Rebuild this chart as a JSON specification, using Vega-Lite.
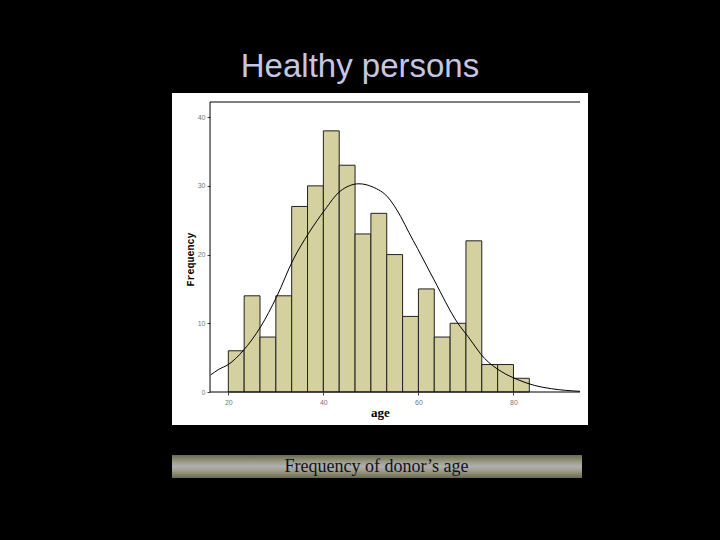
{
  "$schema": "https://vega.github.io/schema/vega-lite/v6.json",
  "width": 416,
  "height": 332,
  "autosize": {"type": "none"},
  "padding": {"left": 172, "top": 93, "right": 132, "bottom": 115},
  "background": "black",
  "config": {
    "view": {"stroke": null, "fill": "white"},
    "axis": {"grid": false, "domain": false, "labelFontSize": 7, "labelColor": "#777777", "labelFont": "Liberation Sans", "tickSize": 3, "tickColor": "#444444", "titleColor": "black", "titleFontWeight": "bold"},
    "axisX": {"labelPadding": 3, "titleFont": "Liberation Serif", "titleFontSize": 13, "titlePadding": 1},
    "axisY": {"labelPadding": 2, "titleFont": "Liberation Mono", "titleFontSize": 10, "titlePadding": 2}
  },
  "title": {"text": "Healthy persons", "font": "Liberation Sans", "fontSize": 33, "fontWeight": "normal", "color": "#c6c6e2", "anchor": "middle", "frame": "group", "dx": -20, "dy": 39, "offset": 22, "baseline": "alphabetic"},
  "datasets": {
    "bins": [
      {"start": 20, "end": 23.333, "count": 6},
      {"start": 23.333, "end": 26.667, "count": 14},
      {"start": 26.667, "end": 30, "count": 8},
      {"start": 30, "end": 33.333, "count": 14},
      {"start": 33.333, "end": 36.667, "count": 27},
      {"start": 36.667, "end": 40, "count": 30},
      {"start": 40, "end": 43.333, "count": 38},
      {"start": 43.333, "end": 46.667, "count": 33},
      {"start": 46.667, "end": 50, "count": 23},
      {"start": 50, "end": 53.333, "count": 26},
      {"start": 53.333, "end": 56.667, "count": 20},
      {"start": 56.667, "end": 60, "count": 11},
      {"start": 60, "end": 63.333, "count": 15},
      {"start": 63.333, "end": 66.667, "count": 8},
      {"start": 66.667, "end": 70, "count": 10},
      {"start": 70, "end": 73.333, "count": 22},
      {"start": 73.333, "end": 76.667, "count": 4},
      {"start": 76.667, "end": 80, "count": 4},
      {"start": 80, "end": 83.333, "count": 2}
    ],
    "curve": [
      {"age": 16.3, "freq": 2.5},
      {"age": 18, "freq": 3.3},
      {"age": 20, "freq": 4.0},
      {"age": 23.1, "freq": 6.0},
      {"age": 26.8, "freq": 9.5},
      {"age": 30.2, "freq": 13.9},
      {"age": 33.6, "freq": 19.2},
      {"age": 36.9, "freq": 23.1},
      {"age": 40.3, "freq": 26.5},
      {"age": 43.5, "freq": 29.2},
      {"age": 47.5, "freq": 30.3},
      {"age": 50.5, "freq": 29.8},
      {"age": 53.5, "freq": 28.4},
      {"age": 56.3, "freq": 25.5},
      {"age": 58.0, "freq": 23.2},
      {"age": 59.8, "freq": 20.9},
      {"age": 63.3, "freq": 16.3},
      {"age": 68.3, "freq": 10.0},
      {"age": 70.4, "freq": 8.1},
      {"age": 73.9, "freq": 4.9},
      {"age": 77.4, "freq": 3.0},
      {"age": 80.9, "freq": 1.8},
      {"age": 84.4, "freq": 0.96},
      {"age": 88, "freq": 0.48},
      {"age": 94, "freq": 0.1}
    ]
  },
  "layer": [
    {
      "data": {"name": "bins"},
      "mark": {"type": "rect", "color": "#d4d09f", "stroke": "#222222", "strokeWidth": 1},
      "encoding": {
        "x": {"field": "start", "type": "quantitative", "scale": {"domain": [8.15, 95.68], "nice": false, "zero": false},
              "axis": {"values": [20, 40, 60, 80], "offset": -33, "title": "age"}},
        "x2": {"field": "end"},
        "y": {"field": "count", "type": "quantitative", "scale": {"domain": [-4.8, 43.51], "nice": false, "zero": false},
              "axis": {"values": [0, 10, 20, 30, 40], "offset": -38, "title": "Frequency"}},
        "y2": {"datum": 0}
      }
    },
    {
      "data": {"values": [{}]},
      "mark": {"type": "rect", "color": {"gradient": "linear", "x1": 0, "y1": 0, "x2": 0, "y2": 1, "stops": [{"offset": 0, "color": "#6a6a4c"}, {"offset": 0.3, "color": "#9c9c88"}, {"offset": 0.5, "color": "#b0b0b0"}, {"offset": 0.7, "color": "#9c9c88"}, {"offset": 1, "color": "#6a6a4c"}]}},
      "encoding": {
        "x": {"datum": 8.15, "type": "quantitative"},
        "x2": {"datum": 94.42},
        "y": {"datum": -9.17, "type": "quantitative"},
        "y2": {"datum": -12.51}
      }
    },
    {
      "data": {"values": [{}]},
      "mark": {"type": "text", "text": "Frequency of donor’s age", "font": "Liberation Serif", "fontSize": 18, "color": "#10101c", "align": "center", "baseline": "alphabetic"},
      "encoding": {
        "x": {"datum": 51.18, "type": "quantitative"},
        "y": {"datum": -11.64, "type": "quantitative"}
      }
    },
    {
      "data": {"values": [{}]},
      "mark": {"type": "rule", "color": "black", "strokeWidth": 1},
      "encoding": {
        "x": {"datum": 16.15, "type": "quantitative"},
        "y": {"datum": 0, "type": "quantitative"},
        "y2": {"datum": 42.2}
      }
    },
    {
      "data": {"values": [{}]},
      "mark": {"type": "rule", "color": "black", "strokeWidth": 1},
      "encoding": {
        "x": {"datum": 16.15, "type": "quantitative"},
        "x2": {"datum": 94.0},
        "y": {"datum": 0, "type": "quantitative"}
      }
    },
    {
      "data": {"values": [{}]},
      "mark": {"type": "rule", "color": "black", "strokeWidth": 1},
      "encoding": {
        "x": {"datum": 16.15, "type": "quantitative"},
        "x2": {"datum": 94.0},
        "y": {"datum": 42.2, "type": "quantitative"}
      }
    },
    {
      "data": {"name": "curve"},
      "mark": {"type": "line", "color": "black", "strokeWidth": 1, "interpolate": "monotone"},
      "encoding": {
        "x": {"field": "age", "type": "quantitative"},
        "y": {"field": "freq", "type": "quantitative"}
      }
    }
  ]
}
